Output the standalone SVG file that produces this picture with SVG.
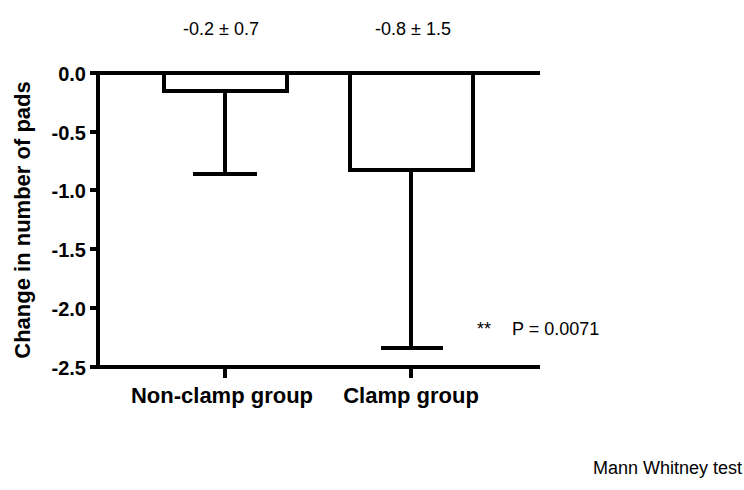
<svg xmlns="http://www.w3.org/2000/svg" width="744" height="490" viewBox="0 0 744 490">
<style>
.ln{stroke:#000;stroke-width:4;fill:none}
.tk{font-family:"Liberation Sans",Arial,sans-serif;font-weight:bold;font-size:20px;text-anchor:end}
.lb{font-family:"Liberation Sans",Arial,sans-serif;font-weight:bold;font-size:22px;text-anchor:middle}
.nm{font-family:"Liberation Sans",Arial,sans-serif;font-size:18px}
</style>
<rect width="744" height="490" fill="#fff"/>
<g id="axes">
<path class="ln" d="M98 73V367M90 73H540M90 132H98M90 190H98M90 249H98M90 308H98M90 367H540M225 367V378M411 367V378"/>
<text class="tk" x="86" y="81">0.0</text>
<text class="tk" x="86" y="140">-0.5</text>
<text class="tk" x="86" y="198">-1.0</text>
<text class="tk" x="86" y="257">-1.5</text>
<text class="tk" x="86" y="316">-2.0</text>
<text class="tk" x="86" y="375">-2.5</text>
<text class="lb" transform="translate(30 220) rotate(-90)">Change in number of pads</text>
<text class="lb" x="222" y="403">Non-clamp group</text>
<text class="lb" x="411" y="403">Clamp group</text>
</g>
<g id="nonclamp">
<rect class="ln" x="164" y="73" width="123" height="18"/>
<path class="ln" d="M225 91V174M193 174H257"/>
<text class="nm" x="221" y="35" text-anchor="middle">-0.2 ± 0.7</text>
</g>
<g id="clamp">
<rect class="ln" x="350" y="73" width="123" height="97"/>
<path class="ln" d="M411 170V348M381 348H443"/>
<text class="nm" x="413" y="35" text-anchor="middle">-0.8 ± 1.5</text>
</g>
<g id="stats">
<text class="nm" x="477" y="335" font-size="12">**</text>
<text class="nm" x="512" y="335">P = 0.0071</text>
<text class="nm" x="593" y="474" font-size="14">Mann Whitney test</text>
</g>
</svg>
